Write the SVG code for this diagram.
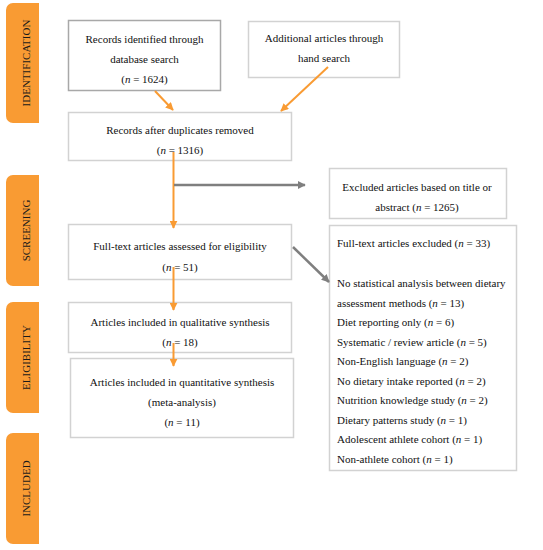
<svg xmlns="http://www.w3.org/2000/svg" width="543" height="550" viewBox="0 0 543 550">
<style>
.tab{fill:#F99B33}
.tl{font-size:11px;fill:#1a1a1a;text-anchor:middle}
.box{fill:#fff;stroke:#d2d2d2;stroke-width:1.5}
.box.dark{stroke:#a8a8a8}
.t{font-size:11px;fill:#111}
.c{text-anchor:middle}
.o{stroke:#F99B33;stroke-width:2;fill:none}
.g{stroke:#7f7f7f;stroke-width:2.5;fill:none}
</style>
<defs>
<marker id="ao" viewBox="0 0 10 10" refX="9" refY="5" markerWidth="4" markerHeight="4" orient="auto" markerUnits="strokeWidth"><path d="M0,0 L10,5 L0,10 z" fill="#F99B33"/></marker>
<marker id="ag" viewBox="0 0 10 10" refX="9" refY="5" markerWidth="3.2" markerHeight="3.2" orient="auto" markerUnits="strokeWidth"><path d="M0,0 L10,5 L0,10 z" fill="#7f7f7f"/></marker>
</defs>
<rect width="543" height="550" fill="#fff"/>
<g font-family="Liberation Serif, Times New Roman, DejaVu Serif, serif">
<g id="tab-identification"><path class="tab" d="M13,3 H39 V123 H13 A7,7 0 0 1 6,116 V10 A7,7 0 0 1 13,3 z"/><text class="tl" transform="translate(30,63) rotate(-90)">IDENTIFICATION</text></g>
<g id="tab-screening"><path class="tab" d="M13,175 H39 V286 H13 A7,7 0 0 1 6,279 V182 A7,7 0 0 1 13,175 z"/><text class="tl" transform="translate(30,230.5) rotate(-90)">SCREENING</text></g>
<g id="tab-eligibility"><path class="tab" d="M13,302 H39 V413 H13 A7,7 0 0 1 6,406 V309 A7,7 0 0 1 13,302 z"/><text class="tl" transform="translate(30,357.5) rotate(-90)">ELIGIBILITY</text></g>
<g id="tab-included"><path class="tab" d="M13,433 H39 V544 H13 A7,7 0 0 1 6,537 V440 A7,7 0 0 1 13,433 z"/><text class="tl" transform="translate(30,488.5) rotate(-90)">INCLUDED</text></g>

<g id="n-db"><rect class="box dark" x="68.5" y="20.5" width="152" height="70"/>
<text class="t c" x="144.5" y="43">Records identified through</text>
<text class="t c" x="144.5" y="63">database search</text>
<text class="t c" x="144.5" y="83">(<tspan font-style="italic">n</tspan> = 1624)</text></g>
<g id="n-hand"><rect class="box" x="248.5" y="21.5" width="151" height="56"/>
<text class="t c" x="324" y="42">Additional articles through</text>
<text class="t c" x="324" y="62">hand search</text></g>
<g id="n-dup"><rect class="box" x="68.5" y="112.5" width="223" height="48"/>
<text class="t c" x="180" y="134">Records after duplicates removed</text>
<text class="t c" x="180" y="154">(<tspan font-style="italic">n</tspan> = 1316)</text></g>
<g id="n-excl1"><rect class="box" x="329.5" y="168.5" width="177" height="50"/>
<text class="t c" x="417" y="191">Excluded articles based on title or</text>
<text class="t c" x="417" y="211">abstract (<tspan font-style="italic">n</tspan> = 1265)</text></g>
<g id="n-full"><rect class="box" x="68.5" y="224.5" width="223" height="55"/>
<text class="t c" x="180" y="250">Full-text articles assessed for eligibility</text>
<text class="t c" x="180" y="271">(<tspan font-style="italic">n</tspan> = 51)</text></g>
<g id="n-excl2"><rect class="box" x="329.5" y="225.5" width="187" height="245"/>
<text class="t" x="337" y="247">Full-text articles excluded (<tspan font-style="italic">n</tspan> = 33)</text>
<text class="t" x="337" y="287">No statistical analysis between dietary</text>
<text class="t" x="337" y="306.5">assessment methods (<tspan font-style="italic">n</tspan> = 13)</text>
<text class="t" x="337" y="326">Diet reporting only (<tspan font-style="italic">n</tspan> = 6)</text>
<text class="t" x="337" y="345.5">Systematic / review article (<tspan font-style="italic">n</tspan> = 5)</text>
<text class="t" x="337" y="365">Non-English language (<tspan font-style="italic">n</tspan> = 2)</text>
<text class="t" x="337" y="384.5">No dietary intake reported (<tspan font-style="italic">n</tspan> = 2)</text>
<text class="t" x="337" y="404">Nutrition knowledge study (<tspan font-style="italic">n</tspan> = 2)</text>
<text class="t" x="337" y="423.5">Dietary patterns study (<tspan font-style="italic">n</tspan> = 1)</text>
<text class="t" x="337" y="443">Adolescent athlete cohort (<tspan font-style="italic">n</tspan> = 1)</text>
<text class="t" x="337" y="462.5">Non-athlete cohort (<tspan font-style="italic">n</tspan> = 1)</text></g>
<g id="n-qual"><rect class="box" x="68.5" y="302.5" width="223" height="50"/>
<text class="t c" x="180" y="326">Articles included in qualitative synthesis</text>
<text class="t c" x="180" y="346">(<tspan font-style="italic">n</tspan> = 18)</text></g>
<g id="n-quant"><rect class="box" x="70.5" y="358.5" width="223" height="79"/>
<text class="t c" x="182" y="386">Articles included in quantitative synthesis</text>
<text class="t c" x="182" y="406">(meta-analysis)</text>
<text class="t c" x="182" y="426">(<tspan font-style="italic">n</tspan> = 11)</text></g>
</g>
<g id="connectors">
<line class="o" x1="155" y1="91" x2="173" y2="110" marker-end="url(#ao)"/>
<line class="o" x1="328" y1="67" x2="281" y2="111" marker-end="url(#ao)"/>
<line class="o" x1="173.5" y1="152" x2="173.5" y2="228" marker-end="url(#ao)"/>
<line class="g" x1="174" y1="185" x2="305" y2="185" marker-end="url(#ag)"/>
<line class="g" x1="293" y1="247" x2="329" y2="282" marker-end="url(#ag)"/>
<line class="o" x1="173.5" y1="267" x2="173.5" y2="310" marker-end="url(#ao)"/>
<line class="o" x1="173.5" y1="343" x2="173.5" y2="366" marker-end="url(#ao)"/>
</g>
</svg>
